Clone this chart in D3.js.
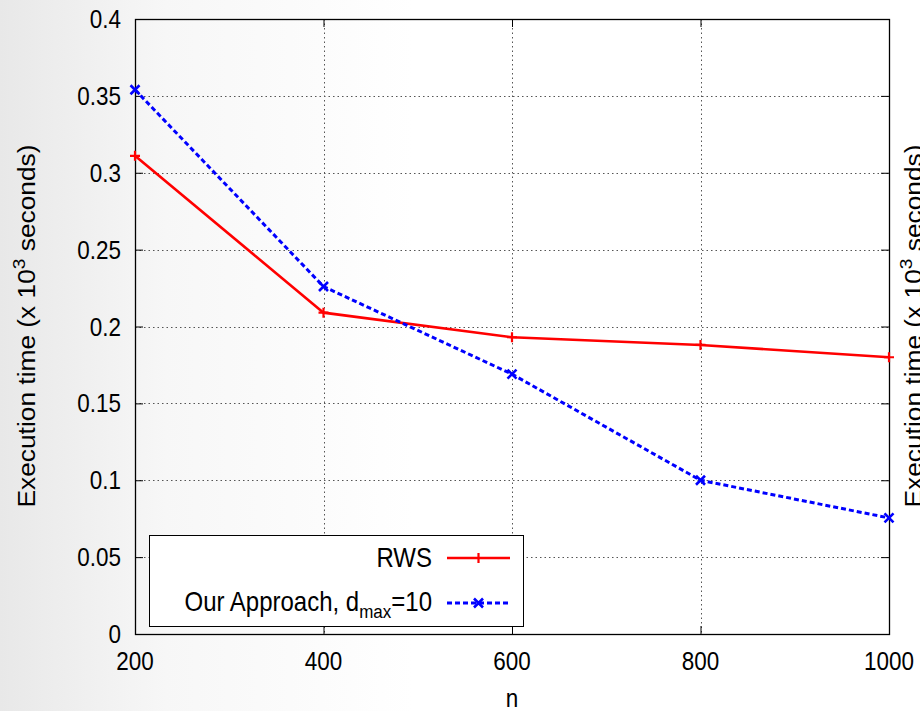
<!DOCTYPE html>
<html><head><meta charset="utf-8">
<script src="https://cdn.jsdelivr.net/npm/d3@7"></script>
<style>body{margin:0;}svg{display:block;}text{font-family:"Liberation Sans",Arial,sans-serif;fill:#000;}</style>
</head><body>
<svg id="c" width="920" height="711"></svg>
<script>
const nValues = [200, 400, 600, 800, 1000];
const rwsValues = [0.311, 0.209, 0.193, 0.188, 0.180];
const ourValues = [0.354, 0.226, 0.169, 0.100, 0.0755];
const xTicks = [200, 400, 600, 800, 1000];
const yTicks = [0, 0.05, 0.1, 0.15, 0.2, 0.25, 0.3, 0.35, 0.4];
const seriesNames = ["RWS", "Our Approach, d", "max", "=10"];
const yLabelParts = ["Execution time (x 10", "3", " seconds)"];
const xLabel = "n";

const svg = d3.select("#c");
const W = 920, H = 711;
const defs = svg.append("defs");
const g = defs.append("linearGradient").attr("id","bg").attr("x1","0").attr("x2","1").attr("y1","0").attr("y2","0");
g.append("stop").attr("offset","0").attr("stop-color","#e8e8e8");
g.append("stop").attr("offset","0.18").attr("stop-color","#f7f7f7");
g.append("stop").attr("offset","0.45").attr("stop-color","#ffffff");
svg.append("rect").attr("width",W).attr("height",H).attr("fill","url(#bg)");

const L = 135, R = 889, T = 19, B = 634;
const x = d3.scaleLinear().domain([200,1000]).range([L,R]);
const y = d3.scaleLinear().domain([0,0.4]).range([B,T]);
const SY = 1.12;

// grid
const grid = svg.append("g").attr("stroke","#555").attr("stroke-width",1).attr("stroke-dasharray","1.5,3");
grid.selectAll(".gy").data(yTicks.filter(v=>v>0 && v<0.4)).join("line")
  .attr("x1",L).attr("x2",R).attr("y1",d=>Math.round(y(d))+0.5).attr("y2",d=>Math.round(y(d))+0.5);
grid.selectAll(".gx").data(xTicks.filter(v=>v>200 && v<1000)).join("line")
  .attr("y1",T).attr("y2",B).attr("x1",d=>Math.round(x(d))+0.5).attr("x2",d=>Math.round(x(d))+0.5);

// axes (tick marks via d3 axes)
const ya = svg.append("g").attr("transform",`translate(${L},0)`).call(d3.axisLeft(y).tickValues(yTicks).tickSize(-8).tickFormat(""));
const yr = svg.append("g").attr("transform",`translate(${R},0)`).call(d3.axisRight(y).tickValues(yTicks).tickSize(-8).tickFormat(""));
const xa = svg.append("g").attr("transform",`translate(0,${B})`).call(d3.axisBottom(x).tickValues(xTicks).tickSize(-8).tickFormat(""));
const xt = svg.append("g").attr("transform",`translate(0,${T})`).call(d3.axisTop(x).tickValues(xTicks).tickSize(-8).tickFormat(""));
[ya,yr,xa,xt].forEach(a=>{a.select(".domain").remove(); a.selectAll("line").attr("stroke","#000");});

svg.append("rect").attr("x",L+0.5).attr("y",T+0.5).attr("width",R-L).attr("height",B-T)
  .attr("fill","none").attr("stroke","#000").attr("stroke-width",1.3);

// tick labels (text slightly taller than wide, like the reference)
const yfmt = d => String(+d.toFixed(2));
svg.append("g").selectAll("text").data(yTicks).join("text")
  .attr("transform",d=>`translate(121,${y(d)+9}) scale(1,${SY})`)
  .attr("text-anchor","end").attr("font-size",22.5).text(yfmt);
svg.append("g").selectAll("text").data(xTicks).join("text")
  .attr("transform",d=>`translate(${x(d)},670) scale(1,${SY})`)
  .attr("text-anchor","middle").attr("font-size",22.5).text(d3.format("d"));

// axis labels
function ylabel(xp){
  const t = svg.append("text").attr("transform",`translate(${xp},326) rotate(-90) scale(${SY},1)`)
    .attr("text-anchor","middle").attr("font-size",23.5);
  t.append("tspan").text(yLabelParts[0]);
  t.append("tspan").attr("dy",-10).attr("font-size",17).text(yLabelParts[1]);
  t.append("tspan").attr("dy",10).text(yLabelParts[2]);
}
ylabel(35);
ylabel(922);
svg.append("text").attr("transform",`translate(${(L+R)/2},707) scale(1,${SY})`).attr("text-anchor","middle").attr("font-size",22.5).text(xLabel);

// series
const line = d3.line().x(d=>x(d[0])).y(d=>y(d[1]));
const rws = nValues.map((n,i)=>[n,rwsValues[i]]);
const our = nValues.map((n,i)=>[n,ourValues[i]]);
svg.append("path").datum(rws).attr("d",line).attr("fill","none").attr("stroke","#ff0000").attr("stroke-width",2.6);
svg.append("path").datum(our).attr("d",line).attr("fill","none").attr("stroke","#0000ff").attr("stroke-width",3).attr("stroke-dasharray","5,3");
function plus(sel, cx, cy, s, col){
  sel.append("path").attr("d",`M${cx-s},${cy}H${cx+s}M${cx},${cy-s}V${cy+s}`).attr("stroke",col).attr("stroke-width",2.2);
}
function cross(sel, cx, cy, s, col){
  sel.append("path").attr("d",`M${cx-s},${cy-s}L${cx+s},${cy+s}M${cx-s},${cy+s}L${cx+s},${cy-s}`).attr("stroke",col).attr("stroke-width",2.6);
}
const mk = svg.append("g");
rws.forEach(d=>plus(mk, x(d[0]), y(d[1]), 5, "#ff0000"));
our.forEach(d=>cross(mk, x(d[0]), y(d[1]), 4.5, "#0000ff"));

// legend
const lg = svg.append("g");
lg.append("rect").attr("x",149.5).attr("y",535.5).attr("width",374).attr("height",91).attr("fill","#fff").attr("stroke","#000").attr("stroke-width",1);
lg.append("text").attr("transform",`translate(432,567) scale(1,${SY})`).attr("text-anchor","end").attr("font-size",24).text(seriesNames[0]);
lg.append("line").attr("x1",447).attr("x2",510).attr("y1",558).attr("y2",558).attr("stroke","#ff0000").attr("stroke-width",2.6);
plus(lg, 478.5, 558, 5, "#ff0000");
const t2 = lg.append("text").attr("transform",`translate(432,611) scale(1,${SY})`).attr("text-anchor","end").attr("font-size",24);
t2.append("tspan").text(seriesNames[1]);
t2.append("tspan").attr("dy",6).attr("font-size",17).text(seriesNames[2]);
t2.append("tspan").attr("dy",-6).text(seriesNames[3]);
lg.append("line").attr("x1",447).attr("x2",510).attr("y1",603).attr("y2",603).attr("stroke","#0000ff").attr("stroke-width",3).attr("stroke-dasharray","5,3");
cross(lg, 478.5, 603, 4.5, "#0000ff");
</script>
</body></html>
